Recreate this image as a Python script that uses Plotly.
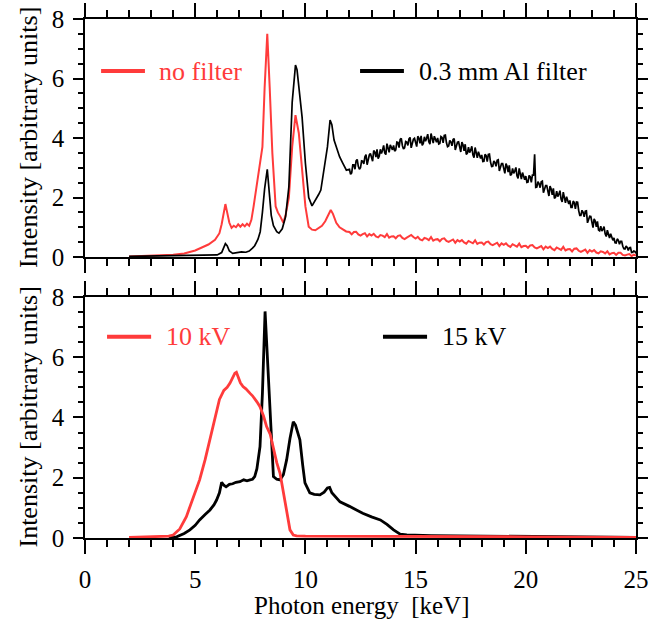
import numpy as np
import plotly.graph_objects as go

# ---------------- data ----------------
# Top panel, "no filter" (red): 2 - 11.9 keV, key points
top_red_x_a = [2.0, 2.5, 3.0, 3.5, 4.0, 4.5, 5.0, 5.3, 5.6, 5.9, 6.1, 6.2, 6.3, 6.37, 6.45,
               6.55, 6.65, 6.75, 6.85, 6.95, 7.05, 7.15, 7.25, 7.35, 7.45, 7.55, 7.65, 7.75,
               7.85, 7.95, 8.05, 8.15, 8.27, 8.38, 8.5, 8.65, 8.75, 8.87, 9.0, 9.1, 9.25, 9.4,
               9.55, 9.7, 9.85, 10.0, 10.15, 10.3, 10.45, 10.6, 10.75, 10.9, 11.05, 11.15,
               11.25, 11.4, 11.55, 11.7, 11.85]
top_red_y_a = [0.02, 0.03, 0.04, 0.05, 0.08, 0.12, 0.22, 0.32, 0.42, 0.58, 0.8, 1.1, 1.6, 1.78, 1.5,
               1.15, 0.98, 1.05, 1.0, 1.1, 1.02, 1.1, 1.03, 1.12, 1.05, 1.25, 1.7, 2.2,
               2.6, 3.2, 3.7, 5.7, 7.5, 5.7, 3.5, 1.7, 1.5, 1.35, 1.15, 1.4, 2.0, 3.7,
               4.77, 4.17, 2.9, 1.7, 1.02, 0.92, 0.9, 0.98, 1.05, 1.2, 1.45, 1.58,
               1.45, 1.15, 1.0, 0.92, 0.86]
# Top panel, "no filter" (red): 12 - 25 keV, every 0.1 keV
top_red_y_b = [0.84, 0.76, 0.84, 0.85, 0.76, 0.72, 0.77, 0.8, 0.69, 0.77,
               0.72, 0.78, 0.69, 0.66, 0.74, 0.72, 0.67, 0.77, 0.65, 0.69,
               0.7, 0.63, 0.71, 0.73, 0.64, 0.6, 0.65, 0.69, 0.74, 0.67,
               0.62, 0.68, 0.59, 0.56, 0.64, 0.62, 0.57, 0.67, 0.55, 0.59,
               0.6, 0.53, 0.61, 0.63, 0.54, 0.51, 0.55, 0.59, 0.48, 0.57,
               0.52, 0.57, 0.49, 0.45, 0.54, 0.51, 0.46, 0.56, 0.44, 0.48,
               0.49, 0.42, 0.5, 0.52, 0.43, 0.4, 0.44, 0.48, 0.37, 0.46,
               0.41, 0.46, 0.38, 0.34, 0.43, 0.4, 0.35, 0.45, 0.33, 0.37,
               0.38, 0.31, 0.39, 0.4, 0.32, 0.29, 0.33, 0.37, 0.26, 0.35,
               0.3, 0.35, 0.27, 0.23, 0.32, 0.29, 0.24, 0.34, 0.22, 0.26,
               0.27, 0.19, 0.28, 0.29, 0.21, 0.17, 0.21, 0.25, 0.14, 0.23,
               0.18, 0.23, 0.15, 0.12, 0.19, 0.17, 0.12, 0.19, 0.09, 0.13,
               0.14, 0.07, 0.14, 0.14, 0.07, 0.05, 0.08, 0.1, 0.03, 0.08,
               0.05]

# Top panel, "0.3 mm Al filter" (black): 2 - 11.9 keV, key points
top_blk_x_a = [2.0, 3.0, 4.0, 5.0, 5.5, 6.0, 6.2, 6.3, 6.37, 6.45, 6.55, 6.7, 6.9, 7.1, 7.3,
               7.45, 7.6, 7.7, 7.85, 7.95, 8.05, 8.15, 8.27, 8.35, 8.45, 8.55, 8.7, 8.8,
               8.95, 9.1, 9.25, 9.4, 9.55, 9.62, 9.7, 9.85, 10.0, 10.15, 10.3, 10.45,
               10.6, 10.7, 10.85, 11.0, 11.12, 11.2, 11.3, 11.45, 11.55, 11.7, 11.86]
top_blk_y_a = [0.02, 0.03, 0.03, 0.04, 0.05, 0.07, 0.15, 0.35, 0.45, 0.38, 0.2, 0.12, 0.15, 0.17, 0.16,
               0.2, 0.3, 0.38, 0.6, 0.85, 1.5, 2.3, 2.95, 2.3, 1.4, 1.05, 0.85, 0.8,
               0.95, 1.35, 2.36, 5.2, 6.45, 6.3, 5.72, 4.7, 3.15, 2.0, 1.72, 1.9,
               2.1, 2.25, 2.9, 3.7, 4.6, 4.45, 3.93, 3.6, 3.37, 3.15, 2.92]
# Top panel, "0.3 mm Al filter" (black): 12.0 - 25.0 keV, every 0.1 keV
top_blk_y_b = [2.95, 2.83, 3.1, 3.23, 3.05, 3.0, 3.22, 3.37, 3.1, 3.43,
               3.38, 3.58, 3.36, 3.31, 3.62, 3.59, 3.5, 3.81, 3.52, 3.67,
               3.75, 3.6, 3.85, 3.95, 3.75, 3.67, 3.86, 3.97, 3.67, 3.96,
               3.88, 4.06, 3.82, 3.75, 4.04, 3.99, 3.87, 4.15, 3.83, 3.95,
               4.0, 3.82, 4.02, 4.09, 3.84, 3.73, 3.87, 3.95, 3.6, 3.86,
               3.73, 3.86, 3.57, 3.45, 3.69, 3.59, 3.44, 3.68, 3.33, 3.41,
               3.43, 3.22, 3.41, 3.45, 3.19, 3.05, 3.18, 3.25, 2.89, 3.14,
               3.0, 3.14, 2.85, 2.74, 2.98, 2.89, 2.73, 2.98, 2.62, 2.71,
               2.72, 2.52, 2.7, 2.75, 3.45, 2.35, 2.47, 2.53, 2.16, 2.4,
               2.25, 2.38, 2.09, 1.97, 2.21, 2.11, 1.95, 2.18, 1.82, 1.89,
               1.9, 1.67, 1.83, 1.85, 1.56, 1.4, 1.5, 1.54, 1.15, 1.37,
               1.2, 1.28, 1.01, 0.91, 1.04, 0.93, 0.78, 0.9, 0.64, 0.66,
               0.64, 0.47, 0.56, 0.53, 0.36, 0.27, 0.32, 0.31, 0.15, 0.2,
               0.12]
# Top panel, "0.3 mm Al filter" (black): 12.05 - 24.95 keV, in-between channels
top_blk_y_c = [2.78, 3.1, 2.95, 3.28, 2.95, 3.23, 3.13, 3.44, 3.29, 3.48,
               3.22, 3.53, 3.62, 3.39, 3.48, 3.75, 3.44, 3.66, 3.77, 3.6,
               3.56, 3.86, 3.68, 3.99, 3.63, 3.88, 3.75, 4.02, 3.84, 3.99,
               3.71, 4.0, 4.07, 3.82, 3.89, 4.13, 3.79, 3.98, 4.06, 3.86,
               3.8, 4.05, 3.84, 4.1, 3.71, 3.92, 3.74, 3.98, 3.75, 3.87,
               3.53, 3.77, 3.79, 3.49, 3.51, 3.72, 3.34, 3.5, 3.54, 3.31,
               3.21, 3.45, 3.21, 3.46, 3.04, 3.23, 3.05, 3.27, 3.04, 3.14,
               2.81, 3.05, 3.08, 2.78, 2.81, 3.01, 2.64, 2.79, 2.84, 2.6,
               2.51, 2.74, 2.51, 2.75, 2.34, 2.53, 2.33, 2.55, 2.3, 2.4,
               2.05, 2.29, 2.31, 2.01, 2.03, 2.23, 1.85, 1.99, 2.03, 1.78,
               1.67, 1.88, 1.62, 1.84, 1.4, 1.57, 1.35, 1.55, 1.28, 1.36,
               0.99, 1.21, 1.2, 0.88, 0.87, 1.02, 0.69, 0.78, 0.78, 0.56,
               0.48, 0.61, 0.43, 0.53, 0.28, 0.37, 0.22, 0.32, 0.16, 0.19]

# Bottom panel, "10 kV" (red)
bot_red_x = [2.0, 2.5, 3.0, 3.5, 3.8, 4.0, 4.3, 4.6, 4.9, 5.2, 5.45, 5.67, 5.9, 6.1, 6.3,
             6.45, 6.58, 6.7, 6.8, 6.87, 6.95, 7.05, 7.17, 7.3, 7.49, 7.6, 7.8, 7.94, 8.1,
             8.24, 8.4, 8.54, 8.7, 8.85, 9.0, 9.15, 9.3, 9.45, 9.6, 10.0, 12.0, 14.0,
             16.0, 18.0, 20.0, 22.0, 25.0]
bot_red_y = [0.02, 0.03, 0.03, 0.04, 0.06, 0.1, 0.3, 0.71, 1.3, 1.93, 2.6, 3.26, 4.0, 4.6, 4.9,
             5.0, 5.14, 5.3, 5.47, 5.5, 5.35, 5.15, 5.03, 4.95, 4.8, 4.72, 4.52, 4.36, 4.05,
             3.7, 3.45, 2.95, 2.5, 2.15, 1.5, 0.82, 0.27, 0.1, 0.07, 0.06, 0.06, 0.06,
             0.05, 0.04, 0.04, 0.03, 0.02]

# Bottom panel, "15 kV" (black)
bot_blk_x = [3.8, 4.16, 4.5, 4.76, 5.0, 5.2, 5.45, 5.67, 5.85, 5.97, 6.1, 6.2, 6.3, 6.4, 6.55,
             6.7, 6.85, 7.03, 7.2, 7.35, 7.49, 7.6, 7.7, 7.8, 7.94, 8.05, 8.17, 8.28, 8.4,
             8.55, 8.7, 8.85, 9.0, 9.15, 9.3, 9.45, 9.55, 9.75, 9.88, 9.98, 10.2, 10.4,
             10.66, 10.85, 11.0, 11.1, 11.2, 11.4, 11.57, 12.0, 12.6, 13.0, 13.4, 13.7,
             14.0, 14.3, 14.6, 15.7, 17.0, 20.0, 22.0, 25.0]
bot_blk_y = [0.01, 0.04, 0.15, 0.27, 0.42, 0.6, 0.78, 0.93, 1.1, 1.26, 1.5, 1.85, 1.75, 1.7, 1.78,
             1.8, 1.85, 1.87, 1.93, 1.9, 1.93, 1.95, 2.04, 2.3, 3.03, 4.8, 7.52, 6.0, 4.15,
             2.04, 1.95, 1.93, 2.1, 2.6, 3.3, 3.86, 3.75, 3.26, 2.4, 1.83, 1.5, 1.45,
             1.43, 1.52, 1.66, 1.68, 1.5, 1.33, 1.2, 1.05, 0.82, 0.7, 0.6, 0.45,
             0.27, 0.13, 0.1, 0.08, 0.07, 0.04, 0.03, 0.02]

x_ticks = [0, 5, 10, 15, 20, 25]
y_ticks = [0, 2, 4, 6, 8]

# ---------------- assemble series ----------------
top_red_x = top_red_x_a + list(np.round(np.linspace(12.0, 25.0, len(top_red_y_b)), 3))
top_red_y = top_red_y_a + top_red_y_b

hump_x = list(np.round(np.linspace(12.0, 25.0, len(top_blk_y_b)), 3)) + \
         list(np.round(np.linspace(12.05, 24.95, len(top_blk_y_c)), 3))
hump_y = top_blk_y_b + top_blk_y_c
order = np.argsort(hump_x, kind="stable")
top_blk_x = top_blk_x_a + [hump_x[i] for i in order]
top_blk_y = top_blk_y_a + [hump_y[i] for i in order]

RED = "#ff3b3b"
BLK = "#000000"
FONT = "Liberation Serif"

fig = go.Figure()
fig.add_trace(go.Scatter(x=top_red_x, y=top_red_y, mode="lines", name="no filter",
                         line=dict(color=RED, width=2), xaxis="x", yaxis="y", showlegend=False))
fig.add_trace(go.Scatter(x=top_blk_x, y=top_blk_y, mode="lines", name="0.3 mm Al filter",
                         line=dict(color=BLK, width=1.7), xaxis="x", yaxis="y", showlegend=False))
fig.add_trace(go.Scatter(x=bot_blk_x, y=bot_blk_y, mode="lines", name="15 kV",
                         line=dict(color=BLK, width=2.8), xaxis="x2", yaxis="y2", showlegend=False))
fig.add_trace(go.Scatter(x=bot_red_x, y=bot_red_y, mode="lines", name="10 kV",
                         line=dict(color=RED, width=2.8), xaxis="x2", yaxis="y2", showlegend=False))

axis_common = dict(showline=True, linecolor="black", linewidth=1.5, mirror="allticks",
                   showgrid=False, zeroline=False, tickcolor="black", tickwidth=1.5,
                   ticks="outside", automargin=False,
                   tickfont=dict(family=FONT, size=25, color="black"))

xa = dict(axis_common, range=[0, 25], tickvals=x_ticks, ticklen=14,
          minor=dict(dtick=1, tick0=0, ticklen=7, ticks="outside", tickcolor="black", tickwidth=1.5))
ya = dict(axis_common, range=[0, 8], tickvals=y_ticks, ticklen=10, ticklabelstandoff=4,
          minor=dict(dtick=0.5, tick0=0, ticklen=5, ticks="outside", tickcolor="black", tickwidth=1.5))

fig.update_layout(
    width=659, height=620,
    margin=dict(l=85, r=23, t=19, b=82),
    paper_bgcolor="white", plot_bgcolor="white",
    showlegend=False,
    font=dict(family=FONT, size=25, color="black"),
    xaxis=dict(xa, domain=[0, 1], anchor="y", showticklabels=False),
    yaxis=dict(ya, domain=[0.5414, 1.0], anchor="x"),
    xaxis2=dict(xa, domain=[0, 1], anchor="y2", matches="x", ticklabelstandoff=4),
    yaxis2=dict(ya, domain=[0, 0.4644], anchor="x2"),
)

# ---------------- axis titles ----------------
fig.add_annotation(xref="paper", yref="paper", x=0.5027, y=-0.1291, text="Photon energy  [keV]",
                   showarrow=False, xanchor="center", yanchor="middle",
                   font=dict(family=FONT, size=25, color="black"))
for yc in (0.7707, 0.2322):
    fig.add_annotation(xref="paper", yref="paper", x=-0.1034, y=yc,
                       text="Intensity [arbitrary units]", textangle=-90, showarrow=False,
                       xanchor="center", yanchor="middle",
                       font=dict(family=FONT, size=26, color="black"))

# ---------------- in-plot legends ----------------
legends = [
    ("x", "y", 0.73, 2.72, 6.25, 3.25, "no filter", RED),
    ("x", "y", 12.48, 14.47, 6.25, 15.05, "0.3 mm Al filter", BLK),
    ("x2", "y2", 1.0, 3.0, 6.68, 3.58, "10 kV", RED),
    ("x2", "y2", 13.52, 15.52, 6.68, 16.1, "15 kV", BLK),
]
for xr, yr, x0, x1, yy, xt, txt, col in legends:
    fig.add_shape(type="line", xref=xr, yref=yr, x0=x0, x1=x1, y0=yy, y1=yy,
                  line=dict(color=col, width=4))
    fig.add_annotation(xref=xr, yref=yr, x=xt, y=yy, text=txt, showarrow=False,
                       xanchor="left", yanchor="middle",
                       font=dict(family=FONT, size=26, color=col))

fig.write_html("out.html", config={"displayModeBar": False},
               post_script="document.body.style.margin='0';")
